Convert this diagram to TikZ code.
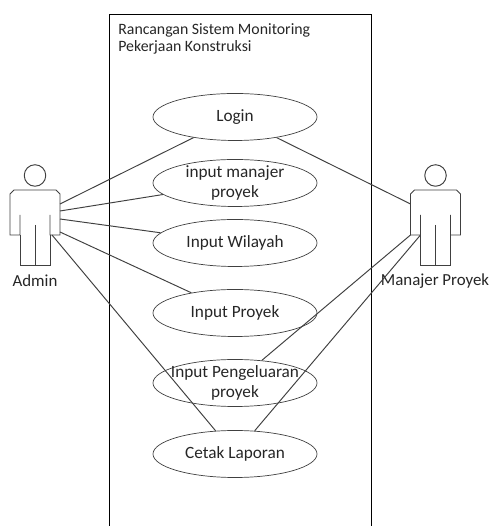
\documentclass[tikz,border=0pt]{standalone}
\usepackage{fontspec}
\setmainfont{Carlito}
\usetikzlibrary{shapes.geometric}
\definecolor{linegray}{RGB}{64,64,64}
\tikzset{
	usecase/.style={draw=linegray, ellipse, minimum width=3.28cm, minimum height=.94cm, inner xsep=-1.8cm, inner ysep=-.7cm, align=center, font=\fontsize{9.8}{11.8}\selectfont, text=black!85},
	actorlabel/.style={font=\fontsize{9.6}{11}\selectfont, text=black!85},
	assoc/.style={draw=linegray, line width=.55pt},
	actor/.pic={
		\draw[assoc] (0,.29) circle (.215);
		\draw[assoc] (-.3,-.5)--(-.3,-.9)--(-.5,-.9)--(-.5,-.08)--(-.42,0)--(.42,0)--(.5,-.08)--(.5,-.9)--(.3,-.9)--(.3,-.5);
		\draw[assoc] (-.3,-.9)--(-.3,-1.5)--(.3,-1.5)--(.3,-.9);
		\draw[assoc] (0,-.7)--(0,-1.5);
		\coordinate (-l1) at (-.5,-.28);
		\coordinate (-l2) at (-.5,-.9);
		\coordinate (-l3) at (-.3,-.9);
		\coordinate (-r1) at (.5,-.28);
		\coordinate (-r2) at (.5,-.42);
		\coordinate (-r3) at (.5,-.58);
		\coordinate (-r4) at (.5,-.84);
		\coordinate (-r5) at (.34,-.9);
	}
}
\begin{document}
\begin{tikzpicture}
	\useasboundingbox (0,0) rectangle (9.8,10.52);
	
	%system boundary
	\draw[line width=.55pt] (2.18,0)--(2.18,10.24)--(7.42,10.24)--(7.42,0);
	\node[anchor=north west, align=left, font=\fontsize{9}{10}\selectfont, text=black!85, inner sep=0pt] (title) at (2.36,10.06) {Rancangan Sistem Monitoring\\Pekerjaan Konstruksi};
	
	%use cases
	\node[usecase] (login) at (4.7,8.18) {Login};
	\node[usecase] (manajer) at (4.7,6.86) {input manajer\\proyek};
	\node[usecase] (wilayah) at (4.7,5.66) {Input Wilayah};
	\node[usecase] (proyek) at (4.7,4.26) {Input Proyek};
	\node[usecase] (pengeluaran) at (4.7,2.86) {Input Pengeluaran\\proyek};
	\node[usecase] (cetak) at (4.7,1.44) {Cetak Laporan};
	
	%actors
	\pic (admin) at (.7,6.72) {actor};
	\pic (mp) at (8.71,6.72) {actor};
	\node[actorlabel] (adminlabel) at (.7,4.9) {Admin};
	\node[actorlabel] (mplabel) at (8.7,4.9) {Manajer Proyek};
	
	%associations
	\draw[assoc] (admin-r1)--(login);
	\draw[assoc] (admin-r2)--(manajer);
	\draw[assoc] (admin-r3)--(wilayah);
	\draw[assoc] (admin-r4)--(proyek);
	\draw[assoc] (admin-r5)--(cetak);
	\draw[assoc] (mp-l1)--(login);
	\draw[assoc] (mp-l2)--(pengeluaran);
	\draw[assoc] (mp-l3)--(cetak);
\end{tikzpicture}
\end{document}
